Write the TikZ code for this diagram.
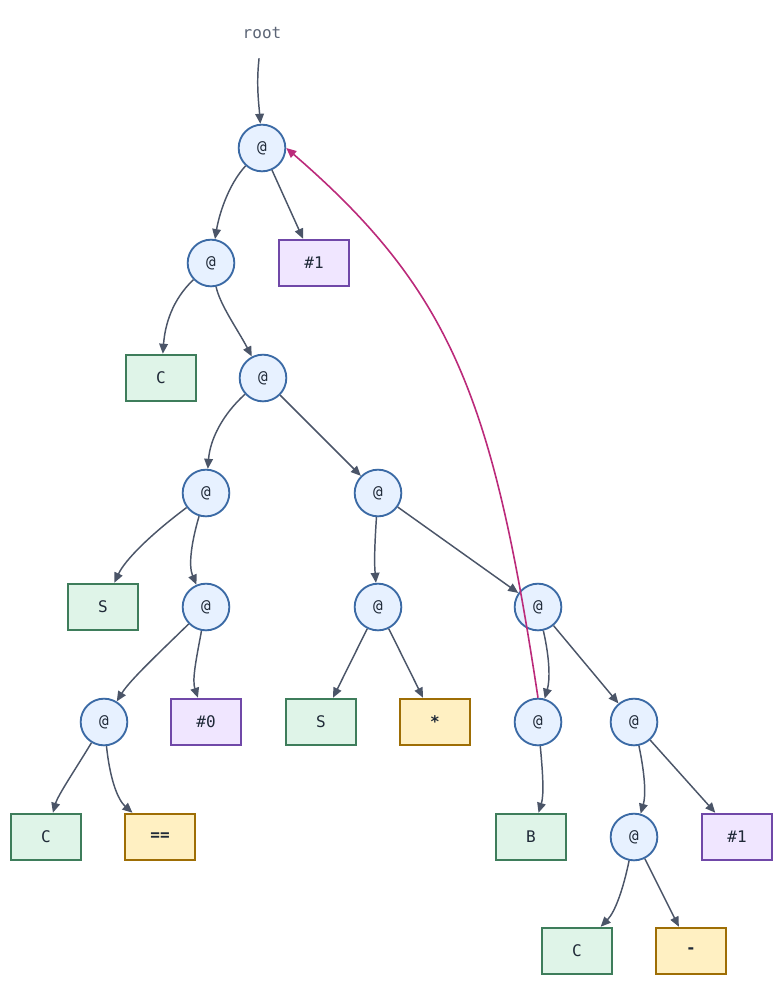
\documentclass[tikz,border=0pt]{standalone}
\usepackage{fontspec}
\setmonofont{DejaVu Sans Mono}
\usetikzlibrary{arrows.meta}
\definecolor{appfill}{HTML}{E7F1FF}
\definecolor{appdraw}{HTML}{3B6AA5}
\definecolor{grnfill}{HTML}{DFF4E8}
\definecolor{grndraw}{HTML}{3E7D5B}
\definecolor{purfill}{HTML}{F0E6FF}
\definecolor{purdraw}{HTML}{7048A8}
\definecolor{yelfill}{HTML}{FFF0C2}
\definecolor{yeldraw}{HTML}{9E6E05}
\definecolor{edgec}{HTML}{4B5568}
\definecolor{backc}{HTML}{BB2A7A}
\definecolor{txtc}{HTML}{1F2937}
\definecolor{rootc}{HTML}{5B6475}
\begin{document}
\begin{tikzpicture}[x=0.75pt,y=-0.75pt,
  lbl/.style={font=\ttfamily\fontsize{12}{14}\selectfont, text=txtc},
  app/.style={lbl, circle, draw=appdraw, fill=appfill, line width=1.4pt, minimum size=35pt, inner sep=0pt},
  leafbox/.style={lbl, rectangle, line width=1.4pt, minimum width=53pt, minimum height=35pt, inner sep=0pt},
  comb/.style={leafbox, draw=grndraw, fill=grnfill},
  idx/.style={leafbox, draw=purdraw, fill=purfill},
  oper/.style={leafbox, draw=yeldraw, fill=yelfill, font=\ttfamily\bfseries\fontsize{12}{14}\selectfont},
  edge/.style={draw=edgec, line width=1.1pt, -{Triangle[length=7.5pt,width=6.5pt]}},
  backedge/.style={draw=backc, line width=1.2pt, -{Triangle[length=7.5pt,width=6.5pt]}}
]
\useasboundingbox (0,0) rectangle (783,986);

\node[lbl, text=rootc, minimum height=37.5pt, inner sep=0pt] (root) at (262,33) {root};

\node[app] (n1) at (262,148) {@};
\node[app] (n2) at (211,263) {@};
\node[idx] (i1) at (314,263) {\#1};
\node[comb] (c1) at (161,378) {C};
\node[app] (n3) at (263,378) {@};
\node[app] (n4) at (206,493) {@};
\node[app] (n5) at (378,493) {@};
\node[comb] (s1) at (103,607) {S};
\node[app] (n6) at (206,607) {@};
\node[app] (n7) at (378,607) {@};
\node[app] (n8) at (538,607) {@};
\node[app] (n9) at (104,722) {@};
\node[idx] (i0) at (206,722) {\#0};
\node[comb] (s2) at (321,722) {S};
\node[oper] (mul) at (435,722) {*};
\node[app] (n10) at (538,722) {@};
\node[app] (n11) at (634,722) {@};
\node[comb] (c2) at (46,837) {C};
\node[oper] (eq) at (160,837) {==};
\node[comb] (b1) at (531,837) {B};
\node[app] (n12) at (634,837) {@};
\node[idx] (i2) at (737,837) {\#1};
\node[comb] (c3) at (577,951) {C};
\node[oper] (sub) at (691,951) {-};

\draw[edge] (root) .. controls (256,85) and (259,105) .. (n1);
\draw[edge] (n1) .. controls (228,185) and (219,215) .. (n2);
\draw[edge] (n1) -- (i1);
\draw[edge] (n2) .. controls (172,300) and (165,325) .. (c1);
\draw[edge] (n2) .. controls (220,305) and (238,330) .. (n3);
\draw[edge] (n3) .. controls (222,415) and (210,440) .. (n4);
\draw[edge] (n3) -- (n5);
\draw[edge] (n4) .. controls (150,535) and (125,560) .. (s1);
\draw[edge] (n4) .. controls (192,540) and (188,565) .. (n6);
\draw[edge] (n5) .. controls (375,540) and (374,560) .. (n7);
\draw[edge] (n5) -- (n8);
\draw[edge] (n6) .. controls (160,652) and (130,680) .. (n9);
\draw[edge] (n6) .. controls (196,660) and (192,680) .. (i0);
\draw[edge] (n7) -- (s2);
\draw[edge] (n7) -- (mul);
\draw[edge] (n8) .. controls (550,660) and (550,680) .. (n10);
\draw[edge] (n8) -- (n11);
\draw[edge] (n9) .. controls (75,770) and (58,795) .. (c2);
\draw[edge] (n9) .. controls (110,780) and (118,800) .. (eq);
\draw[edge] (n10) .. controls (543,775) and (544,795) .. (b1);
\draw[edge] (n11) .. controls (645,775) and (646,795) .. (n12);
\draw[edge] (n11) -- (i2);
\draw[edge] (n12) .. controls (623,890) and (615,912) .. (c3);
\draw[edge] (n12) -- (sub);

\draw[backedge] (n10.north) .. controls (493,401) and (453,292) .. (n1.east);
\end{tikzpicture}
\end{document}
